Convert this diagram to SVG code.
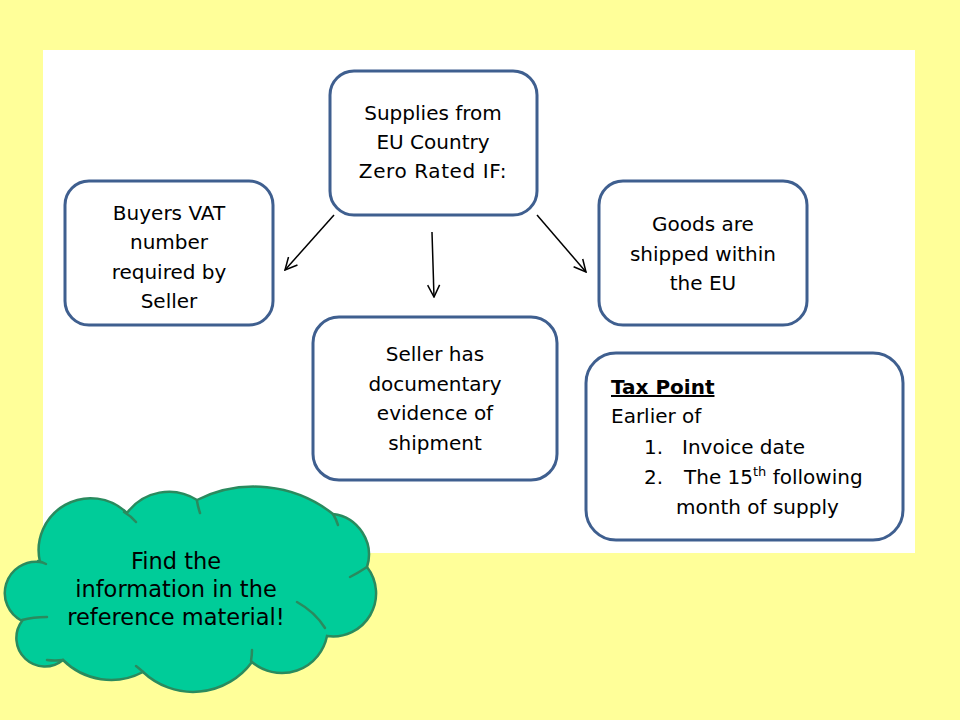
<svg xmlns="http://www.w3.org/2000/svg" width="960" height="720" viewBox="0 0 960 720">
<defs>
<style>
.box{fill:#FFFFFF;stroke:#3F5F8F;stroke-width:3}
.t{font-family:"Comic Sans MS","DejaVu Sans",sans-serif;font-size:20px;fill:#000}
.c{text-anchor:middle}
.ct{font-size:22.5px}
.conn{stroke:#000;stroke-width:1.5;fill:none}
.crease{fill:none;stroke:#2A8A5E;stroke-width:2.5;stroke-linecap:round}
</style>
<marker id="arr" viewBox="0 0 14 14" refX="13" refY="7" markerWidth="14" markerHeight="14" markerUnits="userSpaceOnUse" orient="auto">
<path d="M1,1 L13,7 L1,13" fill="none" stroke="#000" stroke-width="1.5"/>
</marker>
</defs>
<rect x="0" y="0" width="960" height="720" fill="#FFFF99"/>
<rect x="43" y="50" width="872" height="503" fill="#FFFFFF"/>

<g id="connectors">
<line class="conn" x1="334" y1="215" x2="285" y2="270" marker-end="url(#arr)"/>
<line class="conn" x1="432" y1="232" x2="434" y2="297" marker-end="url(#arr)"/>
<line class="conn" x1="537" y1="215" x2="586" y2="272" marker-end="url(#arr)"/>
</g>

<g id="node-top">
<rect class="box" x="330" y="71" width="207" height="144" rx="24"/>
<text class="t c" x="433" y="120">Supplies from</text>
<text class="t c" x="433" y="149">EU Country</text>
<text class="t c" x="433" y="178" letter-spacing="0.6">Zero Rated IF:</text>
</g>

<g id="node-buyers">
<rect class="box" x="65" y="181" width="208" height="144" rx="24"/>
<text class="t c" x="169" y="220">Buyers VAT</text>
<text class="t c" x="169" y="249">number</text>
<text class="t c" x="169" y="279">required by</text>
<text class="t c" x="169" y="308">Seller</text>
</g>

<g id="node-goods">
<rect class="box" x="599" y="181" width="208" height="144" rx="24"/>
<text class="t c" x="703" y="231">Goods are</text>
<text class="t c" x="703" y="261">shipped within</text>
<text class="t c" x="703" y="290">the EU</text>
</g>

<g id="node-seller">
<rect class="box" x="313" y="317" width="244" height="163" rx="26"/>
<text class="t c" x="435" y="361">Seller has</text>
<text class="t c" x="435" y="391">documentary</text>
<text class="t c" x="435" y="420">evidence of</text>
<text class="t c" x="435" y="450">shipment</text>
</g>

<g id="node-taxpoint">
<rect class="box" x="586" y="353" width="317" height="187" rx="30"/>
<text class="t" x="611" y="394" font-weight="bold" text-decoration="underline">Tax Point</text>
<text class="t" x="611" y="423">Earlier of</text>
<text class="t" x="644" y="454">1.</text>
<text class="t" x="682" y="454">Invoice date</text>
<text class="t" x="644" y="484">2.</text>
<text class="t" x="684" y="484">The 15<tspan font-size="13" dy="-8">th</tspan><tspan dy="8"> following</tspan></text>
<text class="t" x="676" y="514">month of supply</text>
</g>

<g id="node-cloud">
<path d="M40,562 A52,52 0 0 1 127,513 A52,52 0 0 1 197,500 A128,128 0 0 1 333,514 A41,41 0 0 1 367,567 A43,43 0 0 1 327,636 A46,46 0 0 1 252,662 A73,73 0 0 1 143,672 A68,68 0 0 1 63,660 A28.5,28.5 0 0 1 22,621 A31.3,31.3 0 0 1 40,562 Z" fill="#00CC99" stroke="#2A8A5E" stroke-width="2.5"/>
<path class="crease" d="M38,561 Q42,562 46,564"/>
<path class="crease" d="M124,512 Q131,516 136,522"/>
<path class="crease" d="M197,501 Q198,507 200,513"/>
<path class="crease" d="M333,514 Q336,519 338,525"/>
<path class="crease" d="M367,567 Q358,573 350,577"/>
<path class="crease" d="M297,602 Q315,612 325,628"/>
<path class="crease" d="M251,661 Q252,655 252,650"/>
<path class="crease" d="M143,672 Q140,669 136,666"/>
<path class="crease" d="M63,660 Q55,661 47,660"/>
<path class="crease" d="M22,620 Q33,617 47,617"/>
<text class="t c ct" x="176" y="569">Find the</text>
<text class="t c ct" x="176" y="597">information in the</text>
<text class="t c ct" x="176" y="625">reference material!</text>
</g>
</svg>
